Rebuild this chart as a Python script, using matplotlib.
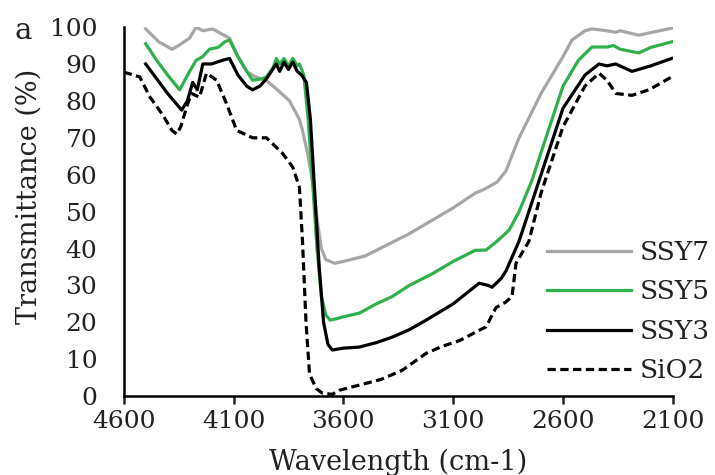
import numpy as np
import matplotlib.pyplot as plt

plt.rcParams['font.family'] = ['DejaVu Serif']

# wavenumber (cm-1) and transmittance (%)
w_ssy7 = [4500, 4440, 4380, 4350, 4300, 4270, 4240, 4195, 4150, 4118, 4080, 4040, 4000, 3950,
          3900, 3845, 3800, 3786, 3760, 3740, 3720, 3700, 3680, 3640, 3600, 3500, 3400, 3300,
          3200, 3100, 3000, 2960, 2900, 2860, 2840, 2800, 2700, 2600, 2559, 2500, 2468, 2400,
          2360, 2340, 2255, 2200, 2105]
t_ssy7 = [99.5, 96, 94, 95, 97, 100, 99, 99.5, 98, 97, 92, 88, 86.5, 85.5,
          83, 80, 75, 72, 65, 58, 48, 40, 37, 36, 36.5, 38, 41, 44,
          47.5, 51, 55, 56, 58, 61, 64, 70, 82, 92, 96.5, 99, 99.5, 99,
          98.6, 99, 97.8, 98.5, 99.7]

w_ssy5 = [4500, 4450, 4400, 4345, 4300, 4270, 4240, 4210, 4170, 4140, 4118, 4080, 4040, 4013,
          3970, 3950, 3920, 3905, 3890, 3870, 3850, 3830, 3810, 3800, 3780, 3760, 3740, 3720,
          3700, 3680, 3660, 3630, 3600, 3527, 3450, 3377, 3300, 3200, 3100, 3000, 2950, 2900,
          2845, 2800, 2741, 2700, 2600, 2530, 2468, 2400, 2370, 2340, 2255, 2200, 2105]
t_ssy5 = [95.5, 91, 87, 83, 88, 91, 92, 94, 94.5, 96, 96.5, 92, 88, 85.6,
          86, 86.5, 89, 91.5, 90, 91.5, 89.5, 91.5, 89.5, 90, 87, 75, 58, 40,
          27, 22, 20.6, 21, 21.5, 22.5, 25, 27, 30, 33, 36.5, 39.5, 39.6, 42,
          45, 50, 58.5, 66, 84, 91, 94.6, 94.6, 95, 94, 93, 94.5, 96]

w_ssy3 = [4500, 4450, 4400, 4336, 4310, 4286, 4265, 4240, 4200, 4150, 4118, 4080, 4040, 4013,
          3980, 3950, 3905, 3890, 3870, 3850, 3830, 3810, 3790, 3768, 3750, 3730, 3710, 3690,
          3670, 3650, 3600, 3527, 3450, 3377, 3300, 3223, 3100, 2982, 2940, 2923, 2880, 2859,
          2800, 2700, 2600, 2500, 2436, 2400, 2360, 2286, 2200, 2105]
t_ssy3 = [90, 86, 82, 77.5, 80, 85, 83, 90, 90, 91, 91.5, 87, 84, 83,
          84, 86, 90, 88, 90.5, 88.5, 90.5, 88, 87, 85, 75, 55, 35, 20,
          14, 12.5, 13, 13.3, 14.5, 16, 18, 20.6, 25, 30.6, 30, 29.5, 32, 34,
          42, 60, 78, 87, 90, 89.5, 90, 88, 89.5, 91.5]

w_sio2 = [4600, 4527, 4480, 4420, 4380, 4359, 4340, 4310, 4291, 4255, 4223, 4177, 4130, 4086,
          4013, 3950, 3877, 3830, 3800, 3786, 3770, 3754, 3723, 3695, 3650, 3618, 3527, 3430,
          3332, 3223, 3150, 3073, 2950, 2905, 2860, 2832, 2814, 2755, 2700, 2600, 2500, 2436,
          2400, 2359, 2286, 2209, 2105]
t_sio2 = [87.8, 86.5, 81, 76, 72, 71, 73, 79, 82, 81, 87.5, 85.6, 79, 72,
          70, 70, 65.8, 62, 56.6, 42, 20, 6, 2, 0.8, 0.5, 1.6, 3, 4.5,
          7, 11.6, 13.5, 15, 18.8, 24, 25.5, 27, 36, 42, 55, 73, 84, 87.5,
          85.6, 82, 81.5, 83, 86.5]

fig = plt.figure(figsize=(7.15, 4.75), dpi=100)
ax = fig.add_axes([0.173, 0.166, 0.768, 0.777])

ax.plot(w_ssy7, t_ssy7, color='#a6a6a6', lw=2.3, label='SSY7')
ax.plot(w_ssy5, t_ssy5, color='#2fb04c', lw=2.3, label='SSY5')
ax.plot(w_ssy3, t_ssy3, color='black', lw=2.3, label='SSY3')
ax.plot(w_sio2, t_sio2, color='black', lw=2.3, dashes=(2.6, 1.4), label='SiO2')

ax.set_xlim(4600, 2100)
ax.set_ylim(0, 100)
ax.set_xticks([4600, 4100, 3600, 3100, 2600, 2100])
ax.set_yticks(range(0, 101, 10))
for s in ['top', 'right']:
    ax.spines[s].set_visible(False)
for s in ['left', 'bottom']:
    ax.spines[s].set_linewidth(1.8)
ax.tick_params(axis='x', direction='out', length=6, width=1.8, pad=4, labelsize=18, colors='#222222')
ax.tick_params(axis='y', length=0, pad=19, labelsize=18, colors='#222222')

ax.set_xlabel('Wavelength (cm-1)', fontsize=19.5, color='#222222', labelpad=11)
ax.set_ylabel('Transmittance (%)', fontsize=19.5, color='#222222')
ax.yaxis.set_label_coords(-0.148, 0.54)
fig.text(0.032, 0.935, 'a', fontsize=21, color='#222222', ha='center', va='center')

leg = ax.legend(loc='lower right', bbox_to_anchor=(1.11, -0.03), frameon=False, fontsize=19,
                handlelength=3.2, handletextpad=0.3, labelspacing=0.55)
for t in leg.get_texts():
    t.set_color('#222222')

fig.savefig('out.png', dpi=100)
